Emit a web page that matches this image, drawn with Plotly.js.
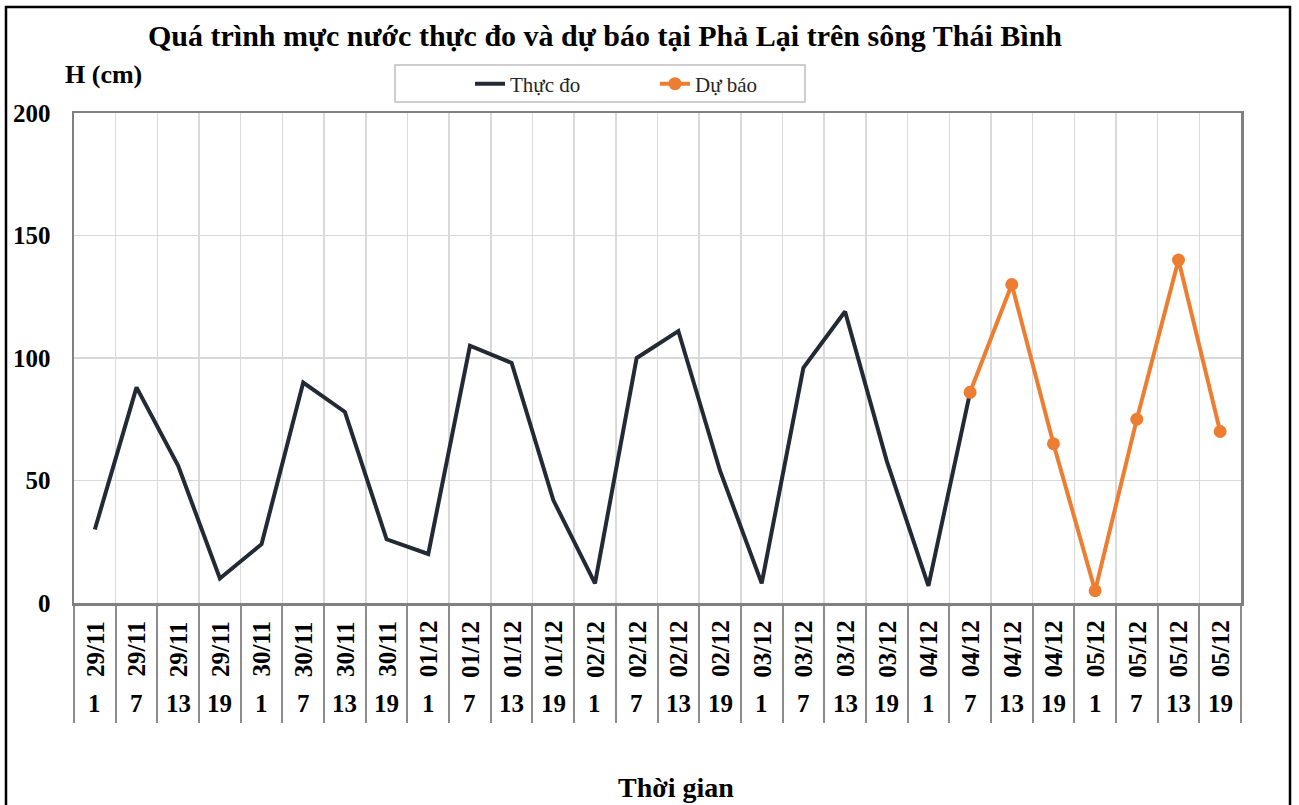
<!DOCTYPE html>
<html>
<head>
<meta charset="utf-8">
<script src="https://cdn.plot.ly/plotly-3.0.1.min.js"></script>
<style>
html,body{margin:0;padding:0;background:#fff;}
#chart{width:1299px;height:805px;}
</style>
</head>
<body>
<div id="chart"></div>
<script>
// ---- data ----
const dates = ["29/11","29/11","29/11","29/11","30/11","30/11","30/11","30/11",
  "01/12","01/12","01/12","01/12","02/12","02/12","02/12","02/12",
  "03/12","03/12","03/12","03/12","04/12","04/12","04/12","04/12",
  "05/12","05/12","05/12","05/12"];
const hours = ["1","7","13","19","1","7","13","19","1","7","13","19","1","7","13","19",
  "1","7","13","19","1","7","13","19","1","7","13","19"];
const observed = [30,88,56,10,24,90,78,26,20,105,98,42,8,100,111,54,8,96,119,58,7,86];
const forecastStartIndex = 21;
const forecast = [86,130,65,5,75,140,70];

const FONT = '"Liberation Serif","Times New Roman",serif';
const idx = dates.map((d,i)=>i);
const obsX = observed.map((v,i)=>i);
const fcX = forecast.map((v,i)=>forecastStartIndex+i);

const traces = [
  {x: obsX, y: observed, name: 'Thực đo', type: 'scatter', mode: 'lines',
   line: {color: '#222a35', width: 4}},
  {x: fcX, y: forecast, name: 'Dự báo', type: 'scatter', mode: 'lines+markers',
   line: {color: '#ed7d31', width: 4}, marker: {color: '#ed7d31', size: 13}}
];

const annotations = [];
idx.forEach(i=>{
  annotations.push({x: i, xref: 'x', y: -0.094, yref: 'paper', text: dates[i],
    showarrow: false, textangle: -90, font: {family: FONT, size: 25, color: '#000', weight: 'bold'},
    xanchor: 'center', yanchor: 'middle'});
  annotations.push({x: i, xref: 'x', y: -0.206, yref: 'paper', text: hours[i],
    showarrow: false, font: {family: FONT, size: 25, color: '#000', weight: 'bold'},
    xanchor: 'center', yanchor: 'middle'});
});
annotations.push({x: (103-74)/1167, xref: 'paper', y: (603-75)/490, yref: 'paper', text: 'H (cm)', showarrow: false,
  font: {family: FONT, size: 26, color: '#000', weight: 'bold'}, xanchor: 'center', yanchor: 'middle'});
annotations.push({x: (676-74)/1167, xref: 'paper', y: -(788-603)/490, yref: 'paper', text: 'Thời gian', showarrow: false,
  font: {family: FONT, size: 28, color: '#000', weight: 'bold'}, xanchor: 'center', yanchor: 'middle'});

const layout = {
  width: 1299, height: 805,
  margin: {l: 74, r: 58, t: 113, b: 202},
  paper_bgcolor: '#fff', plot_bgcolor: '#fff',
  title: {text: 'Quá trình mực nước thực đo và dự báo tại Phả Lại trên sông Thái Bình',
    x: 605/1299, xref: 'container', xanchor: 'center', y: 1-35/805, yref: 'container', yanchor: 'middle',
    font: {family: FONT, size: 30, color: '#000', weight: 'bold'}},
  xaxis: {range: [-0.5, 27.5], showticklabels: false, showgrid: false, zeroline: false,
    showline: true, mirror: true, linecolor: '#808080', linewidth: 2.5, ticks: '',
    minor: {tickmode: 'linear', tick0: -0.5, dtick: 1, ticks: 'outside', ticklen: 117,
      tickcolor: '#8c8c8c', tickwidth: 2, showgrid: true, gridcolor: '#d9d9d9', gridwidth: 1.5}},
  yaxis: {range: [0, 200], tickmode: 'linear', tick0: 0, dtick: 50, showgrid: true,
    gridcolor: '#d9d9d9', gridwidth: 1.5, zeroline: false, showline: true, mirror: true,
    linecolor: '#808080', linewidth: 2.5, ticks: '', ticklabelstandoff: 16,
    tickfont: {family: FONT, size: 25, color: '#000', weight: 'bold'}},
  showlegend: true,
  legend: {orientation: 'h', x: (470-74)/1167, xanchor: 'left', y: (603-84)/490, yanchor: 'middle',
    bgcolor: 'rgba(0,0,0,0)', borderwidth: 0, entrywidth: 140,
    font: {family: FONT, size: 21, color: '#262626'}},
  annotations: annotations,
  shapes: [
    {type: 'rect', xref: 'paper', yref: 'paper', x0: (395-74)/1167, x1: (805-74)/1167,
     y0: (603-102)/490, y1: (603-65)/490, line: {color: '#bfbfbf', width: 1.5}, layer: 'below'},
    {type: 'rect', xref: 'paper', yref: 'paper', x0: (6-74)/1167, x1: (1290-74)/1167,
     y0: (603-830)/490, y1: (603-7)/490, line: {color: '#000', width: 2.5}}
  ]
};

Plotly.newPlot('chart', traces, layout, {displayModeBar: false, staticPlot: true});
</script>
</body>
</html>
